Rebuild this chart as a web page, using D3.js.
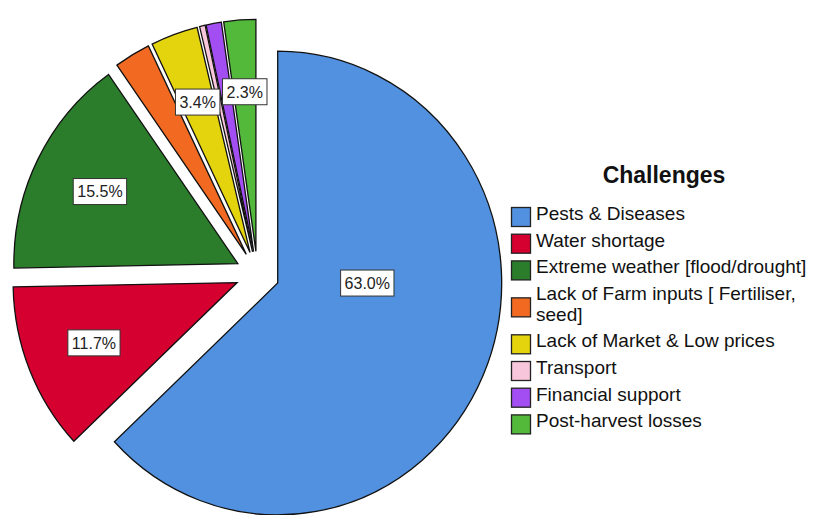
<!DOCTYPE html>
<html>
<head>
<meta charset="utf-8">
<script src="https://cdn.jsdelivr.net/npm/d3@7/dist/d3.min.js"></script>
<style>
  html, body { margin: 0; padding: 0; background: #ffffff; }
  svg { display: block; }
  text { font-family: "Liberation Sans", Arial, sans-serif; }
</style>
</head>
<body>
<svg id="chart" width="813" height="515"></svg>
<script>
// Challenges reported (percent of respondents)
const categories = [
  "Pests & Diseases",
  "Water shortage",
  "Extreme weather [flood/drought]",
  "Lack of Farm inputs [ Fertiliser, seed]",
  "Lack of Market & Low prices",
  "Transport",
  "Financial support",
  "Post-harvest losses"
];
const values = [63.0, 11.7, 15.5, 2.6, 3.4, 0.4, 1.1, 2.3];
const colors = ["#5291e0", "#d5002f", "#2b7d2b", "#f26a21", "#e4d40e", "#f7c6da", "#a34ef2", "#52b93a"];
const showLabel = [true, true, true, false, true, false, false, true];
// legend rows (long names wrap onto a second line)
const legendLines = [
  ["Pests & Diseases"],
  ["Water shortage"],
  ["Extreme weather [flood/drought]"],
  ["Lack of Farm inputs [ Fertiliser,", "seed]"],
  ["Lack of Market & Low prices"],
  ["Transport"],
  ["Financial support"],
  ["Post-harvest losses"]
];
const legendTitle = "Challenges";

const svg = d3.select("#chart");
const cx = 257.5, cy = 274, radius = 224, sy = 1.035, explode = 22;

const data = categories.map((c, i) => ({ name: c, value: values[i], color: colors[i], label: showLabel[i] }));

const pie = d3.pie().sort(null).value(d => d.value).startAngle(0).endAngle(2 * Math.PI);
const arcs = pie(data);
const arc = d3.arc().innerRadius(0).outerRadius(radius);

const pieG = svg.append("g").attr("transform", `translate(${cx},${cy}) scale(1,${sy})`);

// every slice is pulled out along its own bisector
pieG.selectAll("path.slice")
  .data(arcs)
  .join("path")
  .attr("class", "slice")
  .attr("transform", d => {
    const a = (d.startAngle + d.endAngle) / 2;
    return `translate(${explode * Math.sin(a)},${-explode * Math.cos(a)})`;
  })
  .attr("d", arc)
  .attr("fill", d => d.data.color)
  .attr("stroke", "#111")
  .attr("stroke-width", 1.3)
  .attr("stroke-linejoin", "miter")
  .attr("vector-effect", "non-scaling-stroke");

// percentage labels in white boxes
const fmt = d3.format(".1f");
const labelG = svg.append("g");
arcs.filter(d => d.data.label).forEach(d => {
  const span = d.endAngle - d.startAngle;
  const mid = (d.startAngle + d.endAngle) / 2;
  const a = span > Math.PI ? Math.PI / 2 : mid;   // dominant slice: label to the right of its apex
  const k = span > Math.PI ? 0.40 : 0.69;
  const ox = explode * Math.sin(mid), oy = -explode * Math.cos(mid) * sy;
  const x = cx + ox + k * radius * Math.sin(a);
  const y = cy + oy - k * radius * Math.cos(a) * sy;
  const g = labelG.append("g").attr("transform", `translate(${x},${y})`);
  const t = g.append("text")
    .attr("text-anchor", "middle")
    .attr("dy", "0.36em")
    .attr("font-size", 16)
    .attr("fill", "#222")
    .text(fmt(d.data.value) + "%");
  const w = t.node().getComputedTextLength() + 8;
  g.insert("rect", "text")
    .attr("x", -w / 2).attr("y", -13)
    .attr("width", w).attr("height", 26)
    .attr("fill", "#fff")
    .attr("stroke", "#333")
    .attr("stroke-width", 1);
});

// legend
const lg = svg.append("g");
lg.append("text")
  .attr("x", 664).attr("y", 183)
  .attr("text-anchor", "middle")
  .attr("font-size", 23)
  .attr("font-weight", "bold")
  .attr("fill", "#111")
  .text(legendTitle);

const lineH = 20.5, gap = 6.2;
let base = 220;
legendLines.forEach((lines, i) => {
  const first = base, last = base + (lines.length - 1) * lineH;
  const mid = (first + last) / 2;
  lg.append("rect")
    .attr("x", 511.5).attr("y", mid - 12.5)
    .attr("width", 19).attr("height", 19)
    .attr("fill", colors[i])
    .attr("stroke", "#222")
    .attr("stroke-width", 1.3);
  lines.forEach((ln, j) => {
    lg.append("text")
      .attr("x", 536).attr("y", first + j * lineH)
      .attr("font-size", 19)
      .attr("fill", "#111")
      .text(ln);
  });
  base = last + lineH + gap;
});
</script>
</body>
</html>
